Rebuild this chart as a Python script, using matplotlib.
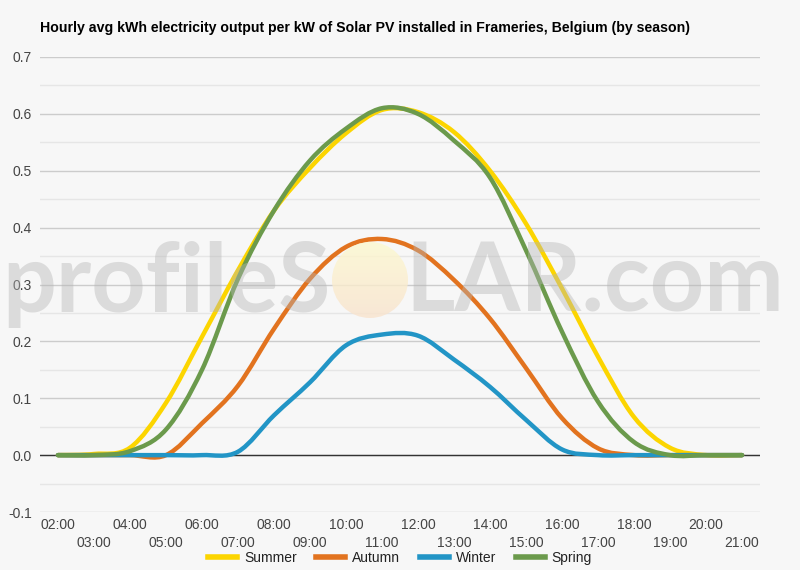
import matplotlib
matplotlib.use("Agg")
import matplotlib.pyplot as plt
from matplotlib.path import Path
from matplotlib.patches import PathPatch, Circle
from matplotlib.lines import Line2D
import numpy as np

plt.rcParams['font.family'] = ['Liberation Sans', 'DejaVu Sans']

title = "Hourly avg kWh electricity output per kW of Solar PV installed in Frameries, Belgium (by season)"

hours = ["02:00", "03:00", "04:00", "05:00", "06:00", "07:00", "08:00", "09:00", "10:00", "11:00",
         "12:00", "13:00", "14:00", "15:00", "16:00", "17:00", "18:00", "19:00", "20:00", "21:00"]

summer = [0, 0.002, 0.013, 0.092, 0.208, 0.325, 0.43, 0.505, 0.566, 0.607,
          0.603, 0.568, 0.50, 0.407, 0.293, 0.173, 0.067, 0.013, 0, 0]
autumn = [0, 0, 0, 0, 0.056, 0.122, 0.222, 0.31, 0.366, 0.38,
          0.36, 0.308, 0.24, 0.153, 0.065, 0.012, 0, 0, 0, 0]
winter = [0, 0, 0, 0, 0, 0.006, 0.07, 0.128, 0.193, 0.212,
          0.210, 0.168, 0.12, 0.062, 0.01, 0, 0, 0, 0, 0]
spring = [0, 0, 0.007, 0.045, 0.15, 0.31, 0.43, 0.518, 0.574, 0.61,
          0.60, 0.553, 0.488, 0.36, 0.217, 0.094, 0.023, 0, 0, 0]

series = [("Summer", summer, "#fcd500"),
          ("Autumn", autumn, "#e2731f"),
          ("Winter", winter, "#2295c6"),
          ("Spring", spring, "#6b9a4c")]

bg = "#f7f7f7"
fs = 10


def smooth_path(xs, ys, t=1/6):
    # catmull-rom style bezier through the hourly points
    verts = [(xs[0], ys[0])]
    codes = [Path.MOVETO]
    n = len(xs)
    for i in range(n - 1):
        a = max(i - 1, 0)
        b = min(i + 2, n - 1)
        c1 = (xs[i] + (xs[i + 1] - xs[a]) * t, ys[i] + (ys[i + 1] - ys[a]) * t)
        c2 = (xs[i + 1] - (xs[b] - xs[i]) * t, ys[i + 1] - (ys[b] - ys[i]) * t)
        verts += [c1, c2, (xs[i + 1], ys[i + 1])]
        codes += [Path.CURVE4] * 3
    return Path(verts, codes)


fig = plt.figure(figsize=(8, 5.7), dpi=100, facecolor=bg)
ax = fig.add_axes([0.05, 1 - 512 / 570, 0.90, (512 - 57) / 570])
ax.set_facecolor(bg)

x = np.arange(len(hours))
for name, vals, col in series:
    p = PathPatch(smooth_path(x, vals), facecolor="none", edgecolor=col, lw=3.2,
                  capstyle="round", joinstyle="round", zorder=3)
    ax.add_patch(p)

ax.set_xlim(-0.5, len(hours) - 0.5)
ax.set_ylim(-0.1, 0.7)

ax.set_yticks(np.arange(-0.1, 0.71, 0.1))
ax.set_yticklabels(["-0.1", "0.0", "0.1", "0.2", "0.3", "0.4", "0.5", "0.6", "0.7"])
ax.set_yticks(np.arange(-0.05, 0.7, 0.1), minor=True)
ax.grid(axis="y", which="major", color="#cccccc", lw=1.0)
ax.grid(axis="y", which="minor", color="#e6e6e6", lw=1.0)
ax.axhline(0, color="#333333", lw=1.0, zorder=2)

ax.set_xticks(x[0::2])
ax.set_xticklabels(hours[0::2])
ax.set_xticks(x[1::2], minor=True)
ax.set_xticklabels(hours[1::2], minor=True)
ax.tick_params(axis="x", which="major", length=0, pad=4.5, labelsize=fs, labelcolor="#444444")
ax.tick_params(axis="x", which="minor", length=0, pad=17.5, labelsize=fs, labelcolor="#444444")
ax.tick_params(axis="y", which="both", length=0, pad=6, labelsize=fs, labelcolor="#444444")
for s in ax.spines.values():
    s.set_visible(False)
ax.set_axisbelow(True)

fig.text(0.05, 1 - 28 / 570, title, ha="left", va="center", fontsize=10.2,
         fontweight="bold", color="#000000")

handles = [Line2D([], [], color=c, lw=4) for _, _, c in series]
fig.legend(handles, [n for n, _, _ in series], loc="center", bbox_to_anchor=(0.5, 1 - 558 / 570),
           ncol=4, frameon=False, fontsize=fs, handlelength=2.1, handletextpad=0.5,
           columnspacing=1.4, labelcolor="#222222", borderpad=0)

# watermark
sun = fig.add_axes([332 / 800, 1 - 318 / 570, 76 / 800, 76 / 570])
sun.axis("off")
grad = np.linspace(0, 1, 100)[:, None] * np.ones((1, 10))
cmap = matplotlib.colors.LinearSegmentedColormap.from_list("sun", ["#fdf9cf", "#f9e3cd"])
im = sun.imshow(grad, cmap=cmap, extent=(0, 1, 0, 1), aspect="auto", alpha=0.8)
im.set_clip_path(Circle((0.5, 0.5), 0.5, transform=sun.transAxes))

wm = dict(fontsize=70, family="Lato", fontweight="bold", color="#b5b5b5", alpha=0.42,
          va="baseline")
t1 = fig.text(331 / 800, 1 - 312 / 570, "profileS", ha="right", **wm)
t2 = fig.text(405 / 800, 1 - 312 / 570, "LAR.com", ha="left", **wm)
r = fig.canvas.get_renderer()
w = t1.get_window_extent(r).width + t2.get_window_extent(r).width
t1.set_fontsize(70 * 708 / w)
t2.set_fontsize(70 * 708 / w)

fig.savefig("out.png", dpi=100, facecolor=bg)
